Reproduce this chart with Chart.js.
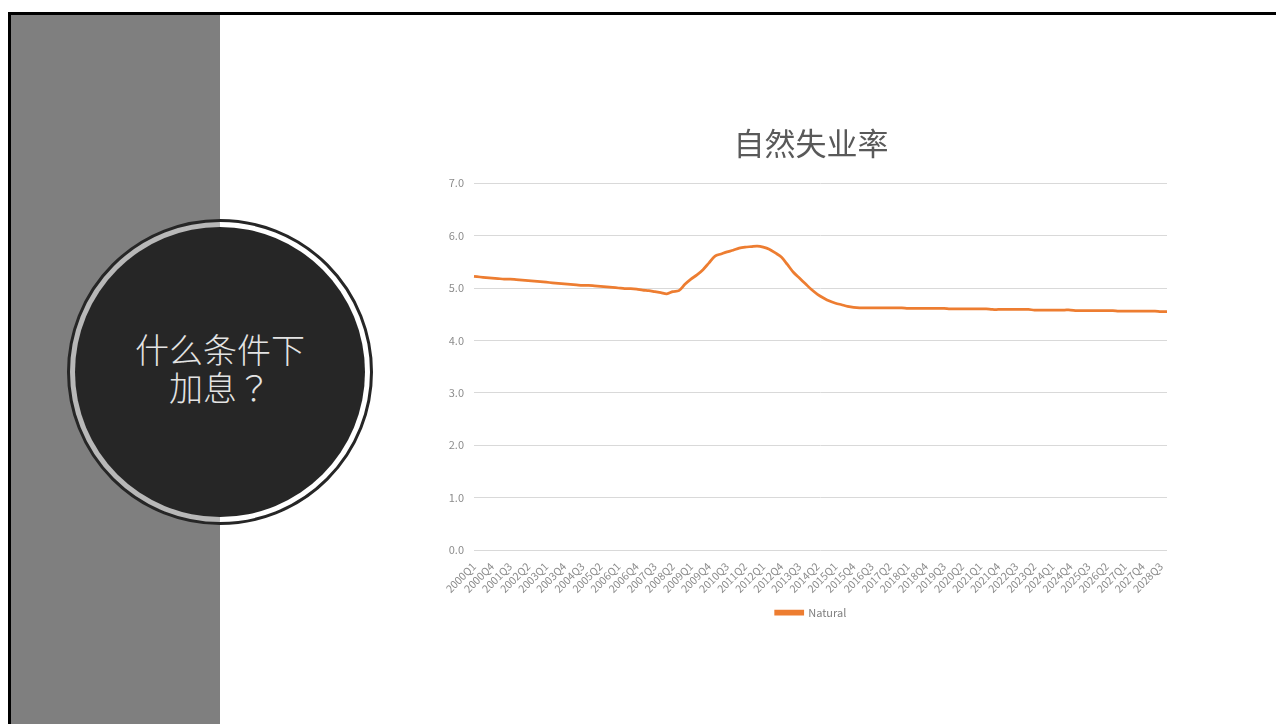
<!DOCTYPE html>
<html lang="zh-CN">
<head>
  <meta charset="UTF-8">
  <title>自然失业率</title>
  <script src="https://cdn.jsdelivr.net/npm/chart.js"></script>
  <style>
    html, body { margin: 0; padding: 0; background: #fff; overflow: hidden; }
    body { width: 1276px; height: 724px; position: relative; font-family: "Noto Sans CJK SC", "Noto Sans", sans-serif; }
    .frame { position: absolute; left: 8px; top: 12px; width: 1300px; height: 800px; border-left: 3px solid #000; border-top: 3px solid #000; }
    .panel { position: absolute; left: 11px; top: 15px; width: 209px; height: 720px; background: #7f7f7f; }
    .ring { position: absolute; left: 67px; top: 219px; width: 300px; height: 300px; border-radius: 50%;
            border: 3px solid #262626; background: rgba(255,255,255,0.45); }
    .disc { position: absolute; left: 75px; top: 227px; width: 290px; height: 290px; border-radius: 50%; background: #262626; }
    .question { position: absolute; left: 75px; top: 330px; width: 290px; text-align: center; color: #e3e3e3;
                font-size: 34px; line-height: 38px; font-weight: 200; }
    .question span { font-family: "Noto Sans CJK TC", "Noto Sans CJK JP", sans-serif; }
    .chart-box { position: absolute; left: 430px; top: 100px; width: 762px; height: 528px; }
  </style>
</head>
<body>
  <div class="frame"></div>
  <div class="panel"></div>
  <div class="ring"></div>
  <div class="disc"></div>
  <div class="question">什么条件下<br>加息<span lang="zh-Hant">？</span></div>

  <div class="chart-box">
    <canvas id="graficoNatural"></canvas>
  </div>

  <script>
    // quarters 2000Q1 .. 2028Q4
    const anos = [];
    for (let a = 2000; a <= 2028; a++) anos.push(a);
    const trimestres = ['Q1', 'Q2', 'Q3', 'Q4'];
    const categorias = [];
    anos.forEach(a => trimestres.forEach(t => categorias.push(a + t)));

    // Natural rate
    const natural = [
      5.22, 5.21, 5.20, 5.19, 5.18, 5.17, 5.17, 5.16, 5.15, 5.14, 5.13, 5.12, 5.11, 5.10,
      5.09, 5.08, 5.07, 5.06, 5.05, 5.05, 5.04, 5.03, 5.02, 5.01, 5.00, 4.99, 4.99,
      4.98, 4.96, 4.95, 4.93, 4.91, 4.89, 4.93, 4.95,
      5.07, 5.17, 5.25, 5.35, 5.48, 5.61, 5.65, 5.69, 5.72, 5.76, 5.78, 5.79, 5.80,
      5.78, 5.74, 5.67, 5.59, 5.45, 5.30, 5.19, 5.08, 4.97, 4.88, 4.81, 4.75, 4.71, 4.68, 4.65, 4.63, 4.62,
      4.62, 4.62, 4.62, 4.62, 4.62, 4.62, 4.62,
      4.61, 4.61, 4.61, 4.61, 4.61, 4.61, 4.61,
      4.60, 4.60, 4.60, 4.60, 4.60, 4.60, 4.60,
      4.59, 4.59, 4.59, 4.59, 4.59, 4.59, 4.59,
      4.58, 4.58, 4.58, 4.58, 4.58, 4.58, 4.58,
      4.57, 4.57, 4.57, 4.57, 4.57, 4.57, 4.57,
      4.56, 4.56, 4.56, 4.56, 4.56, 4.56, 4.56,
      4.55, 4.55
    ];

    const yTicks = [0, 1, 2, 3, 4, 5, 6, 7];
    const corTexto = '#8c8c8c';
    const fonte = "'Noto Sans CJK SC', 'Noto Sans', sans-serif";

    const ctx = document.getElementById('graficoNatural').getContext('2d');
    new Chart(ctx, {
      type: 'line',
      data: {
        labels: categorias,
        datasets: [{
          label: 'Natural',
          data: natural,
          borderColor: '#ED7D31',
          backgroundColor: '#ED7D31',
          borderWidth: 2.75,
          pointRadius: 0,
          tension: 0.3,
          fill: false
        }]
      },
      options: {
        responsive: true,
        maintainAspectRatio: false,
        animation: false,
        layout: { padding: 0 },
        plugins: {
          title: {
            display: true,
            text: '自然失业率',
            color: '#595959',
            font: { family: fonte, size: 31, weight: 'normal' },
            padding: { top: 25, bottom: 21 }
          },
          legend: {
            position: 'bottom',
            labels: {
              color: '#7f7f7f',
              boxWidth: 27,
              boxHeight: 3,
              padding: 10,
              font: { family: fonte, size: 11 }
            }
          },
          tooltip: { enabled: false }
        },
        scales: {
          x: {
            grid: { display: false },
            border: { display: false },
            ticks: {
              autoSkip: false,
              maxRotation: 45,
              minRotation: 45,
              color: corTexto,
              font: { family: fonte, size: 10.5 },
              padding: 2,
              callback: (v, i) => i % 3 === 0 ? categorias[i] : ''
            },
            afterFit: s => { s.height = 47; }
          },
          y: {
            min: 0,
            max: 7,
            afterBuildTicks: s => { s.ticks = yTicks.map(v => ({ value: v })); },
            grid: { color: '#d9d9d9', drawTicks: false },
            border: { display: false },
            ticks: {
              color: corTexto,
              padding: 10,
              font: { family: fonte, size: 11 },
              callback: v => v.toFixed(1)
            },
            afterFit: s => { s.width = 44; }
          },
          // empty right-hand axis: only reserves the margin on the right
          yDireita: {
            position: 'right',
            min: 0,
            max: 7,
            grid: { display: false },
            border: { display: false },
            ticks: { display: false },
            afterFit: s => { s.width = 25; }
          }
        }
      }
    });
  </script>
</body>
</html>
